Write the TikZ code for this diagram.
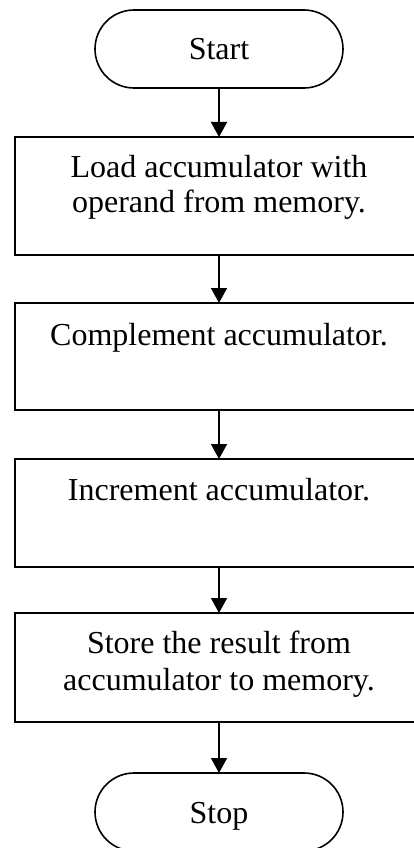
\documentclass[tikz,border=0pt]{standalone}
\usepackage{fontspec}
\setmainfont{Liberation Serif}
\usetikzlibrary{arrows.meta}
\tikzset{
  procbox/.style={draw, line width=1.6pt, minimum width=408pt, inner sep=0pt, outer sep=0pt},
  termbox/.style={draw, line width=1.6pt, rounded corners=39pt, minimum width=248pt, minimum height=78pt, inner sep=0pt, outer sep=0pt},
  lbl/.style={anchor=base, font=\fontsize{32}{36}\selectfont, inner sep=0pt},
  flow/.style={line width=1.6pt, -{Triangle[width=16pt,length=15pt]}}
}
\begin{document}
\begin{tikzpicture}[x=1pt,y=-1pt]
\useasboundingbox (0,0) rectangle (414,848);
\node[termbox] (start) at (219,49) {};
\node[lbl] (tstart) at (219,60) {Start};
\node[procbox, minimum height=118pt] (b1) at (219,196) {};
\node[lbl] (t1a) at (219,177) {Load accumulator with};
\node[lbl] (t1b) at (219,212) {operand from memory.};
\node[procbox, minimum height=107pt] (b2) at (219,356.5) {};
\node[lbl] (t2) at (219,345) {Complement accumulator.};
\node[procbox, minimum height=108pt] (b3) at (219,513) {};
\node[lbl] (t3) at (219,500) {Increment accumulator.};
\node[procbox, minimum height=109pt] (b4) at (219,667.5) {};
\node[lbl] (t4a) at (219,653) {Store the result from};
\node[lbl] (t4b) at (219,690) {accumulator to memory.};
\node[termbox] (stop) at (219,812) {};
\node[lbl] (tstop) at (219,823) {Stop};
\draw[flow] (start.south) -- (b1.north);
\draw[flow] (b1.south) -- (b2.north);
\draw[flow] (b2.south) -- (b3.north);
\draw[flow] (b3.south) -- (b4.north);
\draw[flow] (b4.south) -- (stop.north);
\end{tikzpicture}
\end{document}
